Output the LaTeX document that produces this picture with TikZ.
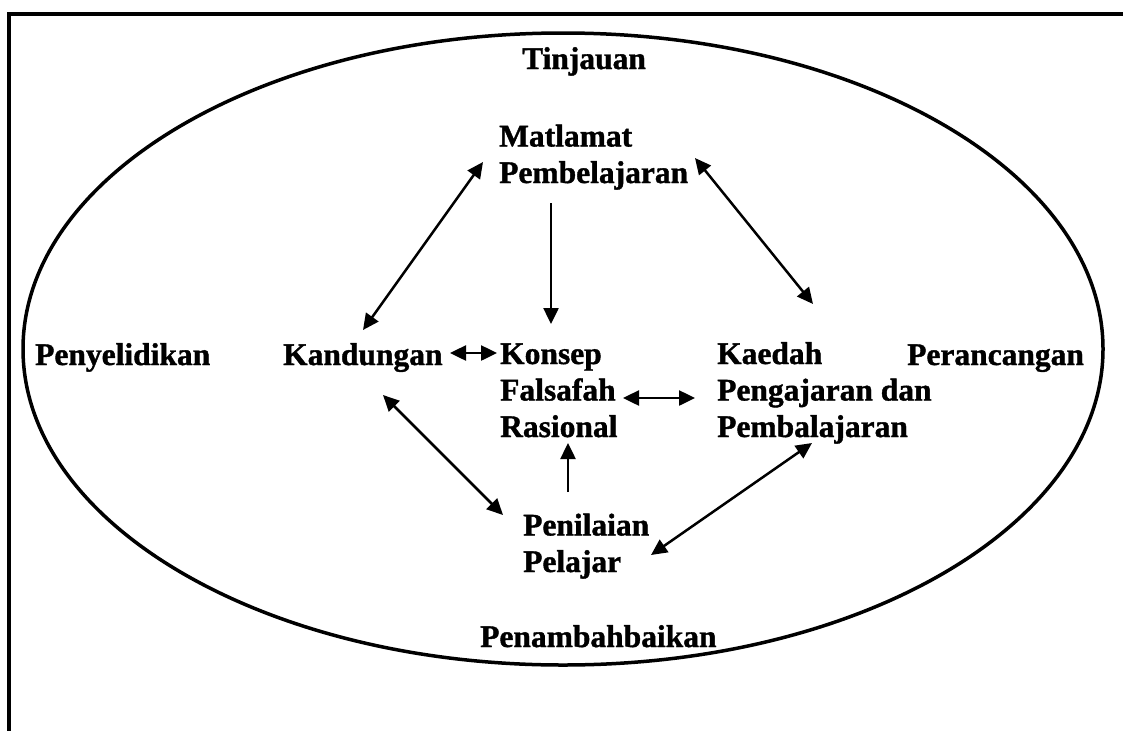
\documentclass[tikz,border=0pt]{standalone}
\usepackage{fontspec}
\setmainfont{Liberation Serif}[BoldFont={Liberation Serif Bold},BoldFeatures={FakeBold=1.2}]
\usetikzlibrary{arrows.meta}
\begin{document}
\begin{tikzpicture}[x=1pt,y=-1pt,
  lbl/.style={font=\bfseries\fontsize{31.5}{36.5}\selectfont, inner sep=0pt, anchor=base west, align=left},
  tip/.tip={Triangle[length=16pt,width=15pt]},
  conn/.style={line width=2.5pt, -tip},
  bconn/.style={line width=2.5pt, tip-tip},
  frame/.style={line width=4pt}]
\useasboundingbox (0,0) rectangle (1123,731);
% frame (top and left only)
\coordinate (fa) at (1123,14);
\coordinate (fb) at (9,14);
\coordinate (fc) at (9,731);
\draw[frame] (fa) -- (fb) -- (fc);
% outer ellipse
\draw[line width=3.5pt] (563,349) ellipse [x radius=540, y radius=316];
% labels (anchor = baseline of the last line)
\node[lbl] (tin) at (522,69) {Tinjauan};
\node[lbl] (mat) at (499,183) {Matlamat\\Pembelajaran};
\node[lbl] (pen) at (35,365) {Penyelidikan};
\node[lbl] (kan) at (283,365) {Kandungan};
\node[lbl] (kon) at (500,437) {Konsep\\Falsafah\\Rasional};
\node[lbl] (kae) at (717,437) {Kaedah\\Pengajaran dan\\Pembalajaran};
\node[lbl] (per) at (907,365) {Perancangan};
\node[lbl] (pnl) at (523,572) {Penilaian\\Pelajar};
\node[lbl] (pnb) at (480,647) {Penambahbaikan};
% connector end points
\coordinate (a1) at (483,162); \coordinate (a2) at (363,330);
\coordinate (b1) at (551,203); \coordinate (b2) at (551,324);
\coordinate (c1) at (695,158); \coordinate (c2) at (813,304);
\coordinate (d1) at (450,353); \coordinate (d2) at (497,353);
\coordinate (e1) at (623,398); \coordinate (e2) at (695,398);
\coordinate (f1) at (383,395); \coordinate (f2) at (503,515);
\coordinate (g1) at (568,492); \coordinate (g2) at (568,443);
\coordinate (h1) at (651,555); \coordinate (h2) at (812,443);
\draw[bconn] (a1) -- (a2);
\draw[conn] (b1) -- (b2);
\draw[bconn] (c1) -- (c2);
\draw[bconn] (d1) -- (d2);
\draw[bconn] (e1) -- (e2);
\draw[bconn] (f1) -- (f2);
\draw[conn] (g1) -- (g2);
\draw[bconn] (h1) -- (h2);
\end{tikzpicture}
\end{document}
